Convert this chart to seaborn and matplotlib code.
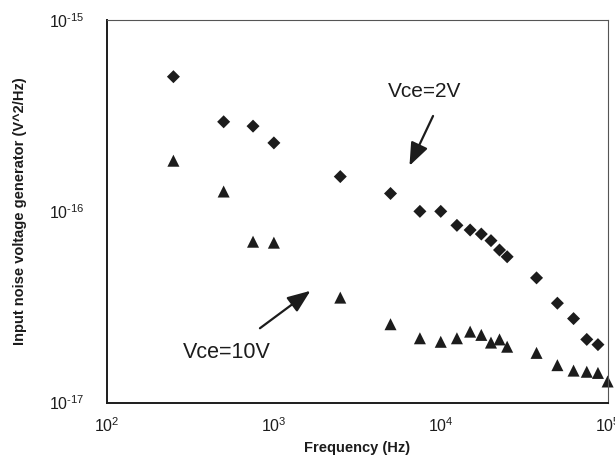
import matplotlib
matplotlib.use("Agg")
import matplotlib.pyplot as plt
import matplotlib.ticker as mticker
import seaborn as sns
import pandas as pd
import numpy as np

# Data
freq_2v = [250, 500, 750, 1000, 2500, 5000, 7500, 10000, 12500, 15000, 17500,
           20000, 22500, 25000, 37500, 50000, 62500, 75000, 87500]
noise_2v = [5.06e-16, 2.94e-16, 2.79e-16, 2.28e-16, 1.52e-16, 1.24e-16, 1.0e-16,
            1.0e-16, 8.45e-17, 7.99e-17, 7.61e-17, 7.03e-17, 6.28e-17, 5.79e-17,
            4.49e-17, 3.31e-17, 2.75e-17, 2.14e-17, 2.01e-17]
freq_10v = [250, 500, 750, 1000, 2500, 5000, 7500, 10000, 12500, 15000, 17500,
            20000, 22500, 25000, 37500, 50000, 62500, 75000, 87500, 100000]
noise_10v = [1.84e-16, 1.27e-16, 6.94e-17, 6.86e-17, 3.54e-17, 2.57e-17, 2.17e-17,
             2.08e-17, 2.17e-17, 2.35e-17, 2.26e-17, 2.06e-17, 2.14e-17, 1.96e-17,
             1.82e-17, 1.57e-17, 1.47e-17, 1.45e-17, 1.43e-17, 1.29e-17]
series_names = ["Vce=2V", "Vce=10V"]
x_label = "Frequency (Hz)"
y_label = "Input noise voltage generator (V^2/Hz)"
x_ticks = [1e2, 1e3, 1e4, 1e5]
y_ticks = [1e-17, 1e-16, 1e-15]

df_2v = pd.DataFrame({"freq": freq_2v, "noise": noise_2v})
df_10v = pd.DataFrame({"freq": freq_10v, "noise": noise_10v})

sns.set_style("white")
plt.rcParams["font.family"] = ["Liberation Sans", "DejaVu Sans"]
plt.rcParams["mathtext.fontset"] = "custom"
plt.rcParams["mathtext.rm"] = "Liberation Sans"
plt.rcParams["mathtext.it"] = "Liberation Sans"

fig = plt.figure(figsize=(6.15, 4.57), dpi=100)
ax = fig.add_axes([0.174, 0.119, 0.814, 0.837])

ink = "#1c1c1c"
sns.scatterplot(data=df_2v, x="freq", y="noise", marker="D", color=ink,
                s=44, edgecolor="none", legend=False, ax=ax, clip_on=False)
sns.scatterplot(data=df_10v, x="freq", y="noise", marker="^", color=ink,
                s=75, edgecolor="none", legend=False, ax=ax, clip_on=False)

ax.set_xscale("log")
ax.set_yscale("log")
ax.set_xlim(1e2, 1e5)
ax.set_ylim(1e-17, 1e-15)
ax.set_xticks(x_ticks)
ax.set_yticks(y_ticks)
ax.minorticks_off()


def pow_fmt(v, pos):
    e = int(round(np.log10(v)))
    if e < 0:
        return r"$\mathregular{10^{\text{-}%d}}$" % (-e)
    return r"$\mathregular{10^{%d}}$" % e


ax.xaxis.set_major_formatter(mticker.FuncFormatter(pow_fmt))
ax.yaxis.set_major_formatter(mticker.FuncFormatter(pow_fmt))
ax.tick_params(axis="both", which="major", direction="inout", length=8, width=1.2,
               labelsize=11.5, colors=ink)
ax.tick_params(axis="y", pad=12)
ax.tick_params(axis="x", pad=6)

for side in ["left", "bottom"]:
    ax.spines[side].set_linewidth(1.4)
    ax.spines[side].set_color(ink)
for side in ["top", "right"]:
    ax.spines[side].set_visible(True)
    ax.spines[side].set_linewidth(0.8)
    ax.spines[side].set_color("#555555")

ax.set_xlabel(x_label, fontsize=10.5, fontweight="bold", color=ink, labelpad=4)
ax.set_ylabel(y_label, fontsize=10.5, fontweight="bold", color=ink, labelpad=16)

# Annotations
arrow_style = "-|>,head_length=1.4,head_width=0.55"
ax.annotate("", xy=(6390, 1.68e-16), xytext=(9140, 3.25e-16),
            arrowprops=dict(arrowstyle=arrow_style, color=ink, lw=1.6))
ax.text(8040, 4.22e-16, series_names[0], ha="center", va="center",
        fontsize=15, color=ink)
ax.annotate("", xy=(1708, 3.92e-17), xytext=(800, 2.40e-17),
            arrowprops=dict(arrowstyle=arrow_style, color=ink, lw=1.6))
ax.text(521, 1.83e-17, series_names[1], ha="center", va="center",
        fontsize=15.5, color=ink)

fig.savefig("out.png", dpi=100)
